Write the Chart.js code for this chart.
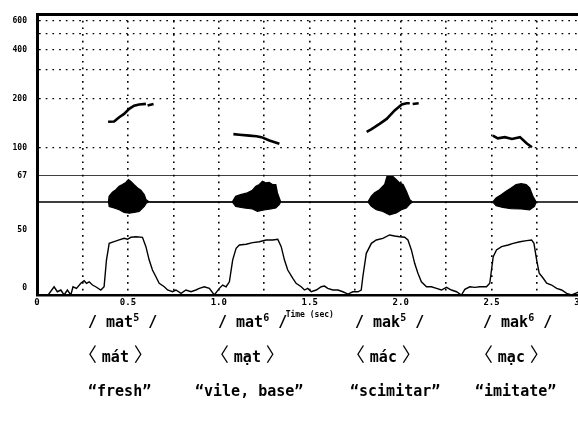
<!DOCTYPE html>
<html><head><meta charset="utf-8">
<script src="https://cdn.jsdelivr.net/npm/chart.js@4"></script>
<style>
html,body{margin:0;padding:0;background:#fff;}
#wrap{position:relative;width:578px;height:425px;overflow:hidden;background:#fff;}
#c{position:absolute;left:0;top:0;}
.g{position:absolute;font-family:'DejaVu Sans Mono',monospace;font-weight:bold;font-size:15px;line-height:18px;white-space:pre;color:#000;}
.g sup{font-size:10px;vertical-align:6px;line-height:0;}
.cjk{font-family:'Noto Sans CJK JP',sans-serif;font-weight:normal;font-size:19px;line-height:0;}
.sp{font-size:8px;}
</style></head>
<body><div id="wrap"><canvas id="c" width="600" height="425"></canvas>
<div class="g" style="left:88px;top:313px">/ mat<sup>5</sup> /</div>
<div class="g" style="left:218px;top:313px">/ mat<sup>6</sup> /</div>
<div class="g" style="left:355px;top:313px">/ mak<sup>5</sup> /</div>
<div class="g" style="left:483px;top:313px">/ mak<sup>6</sup> /</div>
<div class="g" style="left:78px;top:348px"><span class="cjk">〈</span><span class="sp"> </span>mát<span class="sp"> </span><span class="cjk">〉</span></div>
<div class="g" style="left:210px;top:348px"><span class="cjk">〈</span><span class="sp"> </span>mạt<span class="sp"> </span><span class="cjk">〉</span></div>
<div class="g" style="left:346px;top:348px"><span class="cjk">〈</span><span class="sp"> </span>mác<span class="sp"> </span><span class="cjk">〉</span></div>
<div class="g" style="left:474px;top:348px"><span class="cjk">〈</span><span class="sp"> </span>mạc<span class="sp"> </span><span class="cjk">〉</span></div>
<div class="g" style="left:88px;top:382px">“fresh”</div>
<div class="g" style="left:195px;top:382px">“vile, base”</div>
<div class="g" style="left:350px;top:382px">“scimitar”</div>
<div class="g" style="left:475px;top:382px">“imitate”</div>
</div>
<script>
// ---- data ----
const xTicks = [0,0.25,0.5,0.75,1,1.25,1.5,1.75,2,2.25,2.5,2.75,3];
const xLabels = {0:'0',0.5:'0.5',1:'1.0',1.5:'1.5',2:'2.0',2.5:'2.5',3:'3.0'};
const pitchTicks = [67,100,200,300,400,500,600];
const pitchLabels = [67,100,200,400,600];
const intTicks = [0,50];

// F0 contours (sec, Hz), null = break
const pitchT  = [0.391,0.424,0.452,0.479,0.507,0.534,0.562,0.599,null,0.608,0.641,null,
                 1.080,1.113,1.168,1.207,1.234,1.278,1.333,null,
                 1.813,1.840,1.884,1.923,1.967,2.006,2.033,2.050,null,2.066,2.099,null,
                 2.507,2.534,2.573,2.612,2.656,2.694,2.722];
const pitchHz = [144,144.5,153.5,161,173,181,184,185.5,null,181,185.5,null,
                 121,120,118.5,117.5,116,110.5,105.5,null,
                 125,130,140,150,169,184,187,187,null,185,187,null,
                 118.5,114,116,113,116,106,100.5];

// waveform envelope (sec, relative amplitude)
const waveUpT = [0,0.393,0.397,0.415,0.434,0.452,0.470,0.489,0.503,0.516,0.534,0.553,0.571,0.590,0.599,0.617,
  1.074,1.093,1.120,1.157,1.185,1.204,1.223,1.240,1.258,1.277,1.295,1.313,1.322,1.340,
  1.820,1.839,1.857,1.884,1.912,1.925,1.939,1.957,1.976,1.994,2.013,2.031,2.050,2.065,
  2.507,2.525,2.553,2.580,2.608,2.635,2.663,2.690,2.709,2.727,2.745,3.0];
const waveUp = [0,0,0.22,0.37,0.47,0.60,0.67,0.75,0.86,0.79,0.66,0.54,0.45,0.28,0.09,0,
  0,0.22,0.28,0.35,0.45,0.60,0.67,0.79,0.73,0.75,0.67,0.67,0.35,0,
  0,0.22,0.35,0.47,0.67,0.98,1.0,0.98,0.86,0.73,0.67,0.41,0.09,0,
  0,0.15,0.28,0.41,0.54,0.67,0.70,0.67,0.54,0.22,0,0];
const waveLoT = [0.393,0.397,0.424,0.452,0.479,0.507,0.534,0.562,0.590,0.602,0.617,
  1.074,1.093,1.139,1.185,1.212,1.249,1.286,1.313,1.332,1.340,
  1.820,1.839,1.866,1.902,1.939,1.976,2.004,2.031,2.050,2.065,
  2.507,2.525,2.562,2.608,2.663,2.709,2.736,2.745];
const waveLo = [0,-0.17,-0.23,-0.30,-0.40,-0.43,-0.40,-0.36,-0.17,-0.04,0,
  0,-0.17,-0.23,-0.27,-0.36,-0.30,-0.27,-0.23,-0.10,0,
  0,-0.17,-0.30,-0.36,-0.49,-0.42,-0.30,-0.23,-0.08,0,
  0,-0.14,-0.21,-0.26,-0.27,-0.30,-0.17,0];

// intensity (sec, dB)
const intT = [0,0.057,0.094,0.112,0.131,0.149,0.167,0.186,0.198,0.217,0.241,0.259,0.272,0.287,0.305,0.323,0.351,0.369,
  0.382,0.397,0.424,0.452,0.479,0.498,0.516,0.544,0.580,0.599,0.617,0.635,0.654,0.672,0.700,0.718,0.745,0.764,0.792,0.819,0.847,0.874,0.893,
  0.920,0.948,0.975,1.003,1.021,1.040,1.058,1.076,1.095,1.113,1.150,1.186,1.223,1.260,1.296,1.324,1.343,1.361,1.379,1.407,1.425,1.453,1.471,1.489,
  1.508,1.536,1.563,1.581,1.599,1.627,1.655,1.682,1.710,1.737,1.765,1.783,1.792,1.811,1.839,1.866,1.902,1.939,1.967,1.994,2.022,2.040,2.059,2.077,
  2.095,2.114,2.142,2.169,2.197,2.224,2.252,2.279,2.307,2.334,2.353,2.380,2.408,2.435,2.472,2.490,2.509,2.527,2.555,2.591,2.619,2.656,2.693,2.720,
  2.733,2.748,2.762,2.784,2.803,2.830,2.858,2.885,2.913,2.940,2.968,2.982];
const intDb = [-6.9,-6.9,1.1,-3.2,-1.7,-6.0,-1.7,-6.0,1.1,-0.3,4.1,6.3,4.1,5.4,2.6,1.1,-1.7,1.1,
  24.1,38.5,39.9,41.4,42.8,42.0,43.7,44.2,43.7,35.6,24.1,15.5,9.7,4.1,1.1,-1.7,-3.2,-1.7,-4.6,-1.7,-3.2,-1.7,-0.3,
  1.1,-0.3,-6.0,-0.3,2.6,1.1,5.4,24.1,34.2,37.1,37.7,39.1,39.9,41.4,41.4,42.0,35.6,24.1,15.5,8.4,4.1,1.1,-1.7,-0.3,
  -3.2,-1.7,1.1,1.7,-0.3,-1.7,-1.7,-3.2,-5.2,-3.2,-3.2,-1.7,9.7,29.9,38.5,41.4,42.8,45.7,44.8,44.2,43.7,41.4,32.8,21.3,
  12.7,5.4,1.1,1.1,-0.3,-1.7,0.6,-1.7,-3.2,-6.0,-1.1,1.1,0.6,1.1,1.1,4.1,27.0,32.8,35.6,37.1,38.5,39.9,40.8,41.4,
  38.5,24.1,12.7,8.4,4.1,2.6,-0.3,-1.7,-4.6,-6.0,-4.1,-3.2];

// ---- build ----
const pts = (xs, ys) => xs.map((x, i) => ({x: x, y: ys[i]}));
const tickFont = {family: 'DejaVu Sans Mono', weight: 'bold', size: 8};
const noPad = s => { s.width = 37; s.paddingTop = 0; s.paddingBottom = 0; };
const line = (data, axis, w) => ({data, yAxisID: axis, borderColor: '#000', borderWidth: w,
  pointRadius: 0, fill: false, tension: 0, spanGaps: false});

new Chart(document.getElementById('c'), {
  type: 'line',
  data: {datasets: [
    line(pts(pitchT, pitchHz), 'yPitch', 2.6),
    line([{x: 0, y: 67}, {x: 3, y: 67}], 'yPitch', 1.6),
    Object.assign(line(pts(waveUpT, waveUp), 'yWave', 1.4), {fill: 'origin', backgroundColor: '#000'}),
    Object.assign(line(pts(waveLoT, waveLo), 'yWave', 1.2), {fill: 'origin', backgroundColor: '#000'}),
    line(pts(intT, intDb), 'yInt', 1.4)
  ]},
  options: {
    responsive: false, animation: false,
    layout: {padding: {left: 0, top: 14, right: 17.5, bottom: 104}},
    plugins: {legend: {display: false}, tooltip: {enabled: false}},
    scales: {
      x: {type: 'linear', min: 0, max: 3, position: 'bottom',
        afterBuildTicks: s => { s.ticks = xTicks.map(v => ({value: v})); },
        afterFit: s => { s.height = 26; s.paddingLeft = 0; s.paddingRight = 0; },
        ticks: {autoSkip: false, maxRotation: 0, padding: 2, color: '#000', font: {family: 'DejaVu Sans Mono', weight: 'bold', size: 9},
          callback: v => (xLabels[v] !== undefined ? xLabels[v] : '')},
        grid: {drawTicks: false, lineWidth: 1.6,
          color: c => (c.tick && c.tick.value > 0 && c.tick.value < 3) ? '#000' : 'rgba(0,0,0,0)'},
        border: {display: true, width: 2.6, color: '#000', dash: [1.7, 5]},
        title: {display: true, text: 'Time (sec)', color: '#000', font: {family: 'DejaVu Sans Mono', weight: 'bold', size: 8}, padding: {top: 0, bottom: 1}}
      },
      xTop: {type: 'linear', min: 0, max: 3, position: 'top',
        afterFit: s => { s.height = 0; s.paddingLeft = 0; s.paddingRight = 0; },
        ticks: {display: false}, grid: {display: false, drawTicks: false},
        border: {display: true, width: 3, color: '#000'}},
      yInt: {type: 'linear', position: 'left', stack: 'panel', stackWeight: 67, min: -6, max: 51.7,
        afterBuildTicks: s => { s.ticks = intTicks.map(v => ({value: v})); },
        afterFit: noPad,
        ticks: {autoSkip: false, padding: 10, color: '#000', font: tickFont},
        grid: {display: false, drawTicks: false},
        border: {display: true, width: 3, color: '#000'}},
      yWave: {type: 'linear', position: 'left', stack: 'panel', stackWeight: 52, min: -1, max: 1,
        afterFit: noPad,
        ticks: {display: false}, grid: {display: false, drawTicks: false},
        border: {display: true, width: 3, color: '#000'}},
      yPitch: {type: 'logarithmic', position: 'left', stack: 'panel', stackWeight: 162, min: 67, max: 660,
        afterBuildTicks: s => { s.ticks = pitchTicks.map(v => ({value: v})); },
        afterFit: noPad,
        ticks: {autoSkip: false, padding: 10, color: '#000', font: tickFont,
          callback: v => (pitchLabels.includes(v) ? String(v) : '')},
        grid: {drawTicks: false, lineWidth: 1.3,
          color: c => (c.tick && c.tick.value > 67) ? '#000' : 'rgba(0,0,0,0)'},
        border: {display: true, width: 3, color: '#000', dash: [1.7, 5]}}
    }
  }
});
</script>
</body></html>
